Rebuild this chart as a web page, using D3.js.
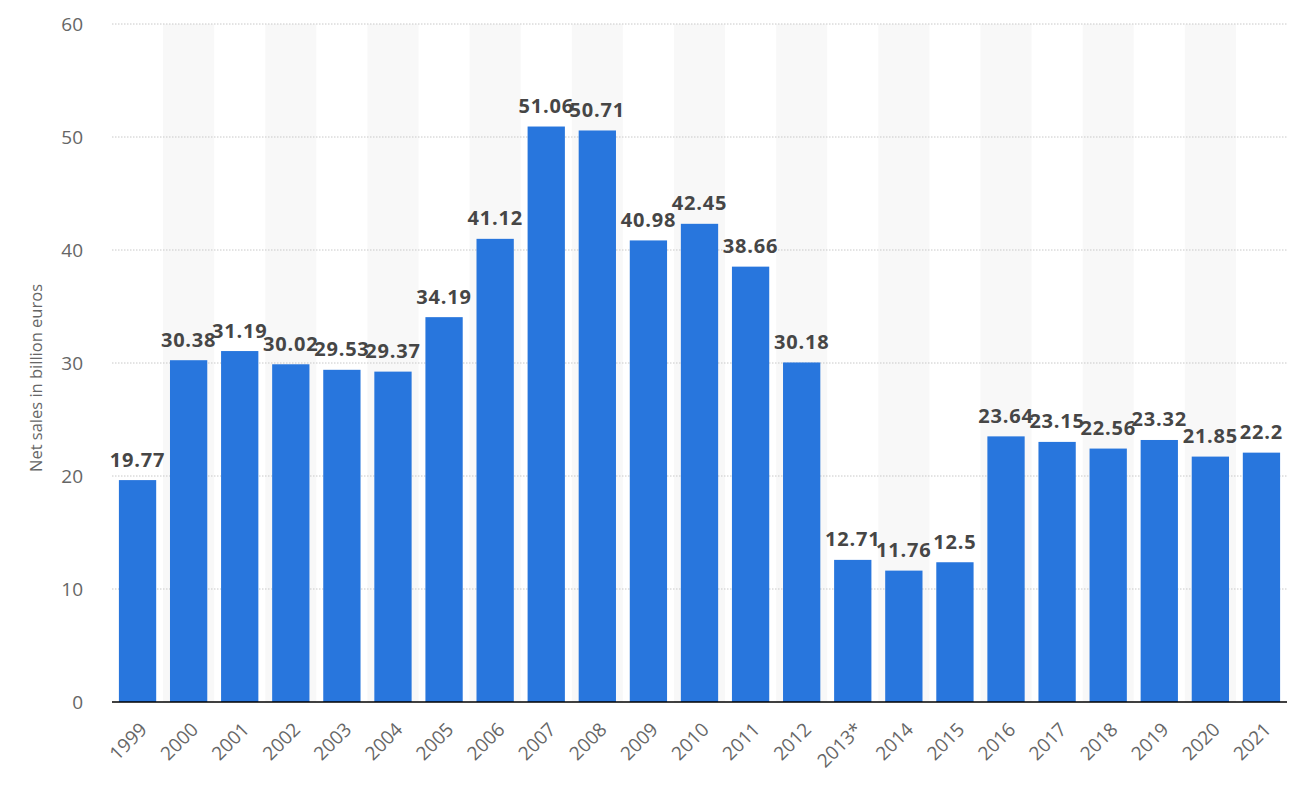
<!DOCTYPE html>
<html>
<head>
<meta charset="utf-8">
<script src="https://cdn.jsdelivr.net/npm/d3@7"></script>
<style>
  body { margin: 0; background: #fff; }
  svg { display: block; font-family: "Open Sans", sans-serif; }
</style>
</head>
<body>
<svg width="1300" height="793"></svg>
<script>
const width = 1300;
const height = 793;

const years = ["1999", "2000", "2001", "2002", "2003", "2004", "2005", "2006", "2007", "2008",
  "2009", "2010", "2011", "2012", "2013*", "2014", "2015", "2016", "2017", "2018", "2019", "2020", "2021"];
const sales = [19.77, 30.38, 31.19, 30.02, 29.53, 29.37, 34.19, 41.12, 51.06, 50.71,
  40.98, 42.45, 38.66, 30.18, 12.71, 11.76, 12.5, 23.64, 23.15, 22.56, 23.32, 21.85, 22.2];
const yTicks = [0, 10, 20, 30, 40, 50, 60];

const margin = { top: 24, right: 13, bottom: 91, left: 112 };
const innerW = width - margin.left - margin.right;
const innerH = height - margin.top - margin.bottom;

const svg = d3.select("svg");
const g = svg.append("g").attr("transform", `translate(${margin.left},${margin.top})`);

const x = d3.scaleBand().domain(years).range([0, innerW]).paddingInner(0.27).paddingOuter(0.135);
const y = d3.scaleLinear().domain([0, 60]).range([innerH, 0]);

// striped background for every other year
const step = x.step();
g.append("g")
  .selectAll("rect")
  .data(years.filter((d, i) => i % 2 === 1))
  .enter()
  .append("rect")
  .attr("x", (d) => x(d) + x.bandwidth() / 2 - step / 2)
  .attr("y", 0)
  .attr("width", step)
  .attr("height", innerH)
  .attr("fill", "#f8f8f8");

// grid
g.append("g")
  .selectAll("line")
  .data(yTicks.filter((d) => d > 0))
  .enter()
  .append("line")
  .attr("x1", 0)
  .attr("x2", innerW)
  .attr("y1", (d) => y(d))
  .attr("y2", (d) => y(d))
  .attr("stroke", "#c8c8c8")
  .attr("stroke-width", 1)
  .attr("stroke-dasharray", "1.5,1.5");

// y tick labels
g.append("g")
  .selectAll("text")
  .data(yTicks)
  .enter()
  .append("text")
  .attr("x", -29)
  .attr("y", (d) => y(d))
  .attr("dy", "0.35em")
  .attr("text-anchor", "end")
  .attr("fill", "#666")
  .style("font-size", "19px")
  .text((d) => d);

// bars
g.append("g")
  .selectAll("rect")
  .data(sales)
  .enter()
  .append("rect")
  .attr("x", (d, i) => x(years[i]))
  .attr("y", (d) => y(d) + 1.5)
  .attr("width", x.bandwidth())
  .attr("height", (d) => innerH - y(d) - 1.5)
  .attr("fill", "#2876dd");

// value labels
g.append("g")
  .selectAll("text")
  .data(sales)
  .enter()
  .append("text")
  .attr("x", (d, i) => x(years[i]) + x.bandwidth() / 2)
  .attr("y", (d) => y(d) - 12)
  .attr("text-anchor", "middle")
  .attr("fill", "#464646")
  .style("font-size", "20px")
  .style("font-weight", "bold")
  .style("letter-spacing", "0.8px")
  .text((d) => d);

// baseline
g.append("line")
  .attr("x1", 0)
  .attr("x2", innerW)
  .attr("y1", innerH)
  .attr("y2", innerH)
  .attr("stroke", "#000")
  .attr("stroke-width", 1.5);

// x labels
g.append("g")
  .selectAll("text")
  .data(years)
  .enter()
  .append("text")
  .attr("transform", (d) => `translate(${x(d) + x.bandwidth() / 2 + 6},${innerH + 24}) rotate(-45)`)
  .attr("text-anchor", "end")
  .attr("dy", "0.35em")
  .attr("fill", "#666")
  .style("font-size", "19px")
  .text((d) => d);

// y axis title
svg.append("text")
  .attr("transform", `translate(42,378) rotate(-90)`)
  .attr("text-anchor", "middle")
  .attr("fill", "#666")
  .style("font-size", "16.5px")
  .text("Net sales in billion euros");
</script>
</body>
</html>
